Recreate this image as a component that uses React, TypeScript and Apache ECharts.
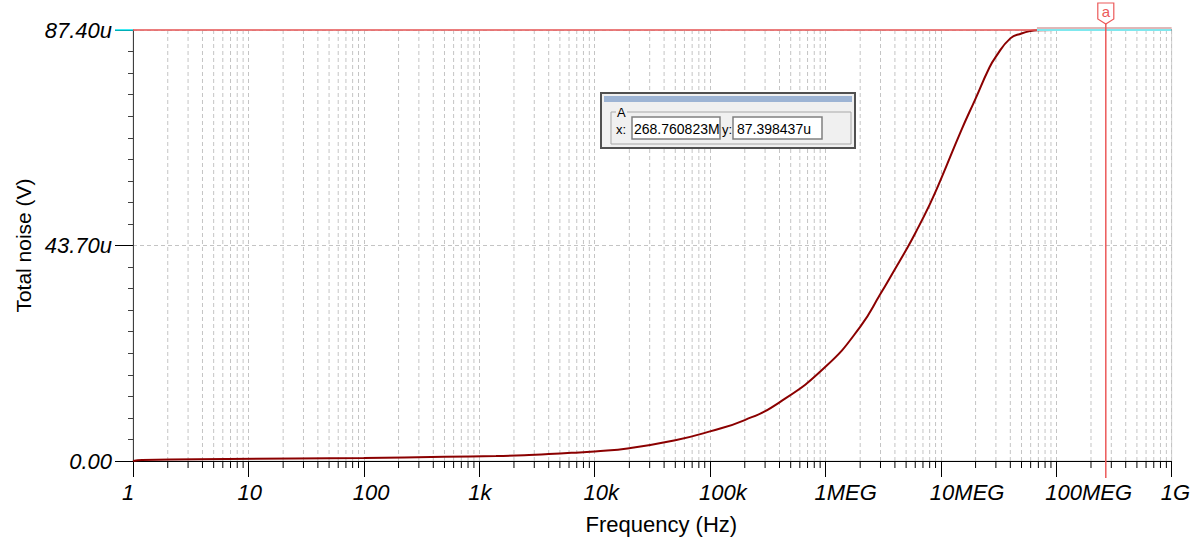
import React, { useEffect, useRef } from "react";
import * as echarts from "echarts";

// ---- data ----
const freqHz = [
  1, 1.2, 6.5, 100, 500, 1400, 2700, 4000, 6300, 10000, 20000, 50000, 100000,
  200000, 400000, 1e6, 2e6, 3e6, 4e6, 5e6, 6e6, 8e6, 1e7, 1.5e7, 2e7, 2.6e7,
  3e7, 4e7, 5e7, 6e7, 7e7, 1e8, 2.6876e8, 1e9,
];
const noiseMicroV = [
  0, 0.2, 0.4, 0.6, 0.85, 1.0, 1.2, 1.4, 1.65, 1.95, 2.6, 4.2, 6.0, 8.3, 11.9,
  19.1, 27.2, 33.9, 38.9, 42.8, 46.2, 52.0, 57.1, 67.0, 73.5, 79.5, 82.0, 85.7,
  86.7, 87.2, 87.35, 87.39, 87.398, 87.4,
];
const xTickLabels = ["1", "10", "100", "1k", "10k", "100k", "1MEG", "10MEG", "100MEG", "1G"];
const yTickLabels = ["0.00", "43.70u", "87.40u"];
const yMax = 87.4;
const yInterval = 43.7;
const decadeCount = 9;
const minorMultipliers = [2, 3, 4, 5, 6, 7, 8, 9];
const cursorFreq = 268.760823e6;
const cursorValue = 87.398437;
const cursorSplitFreq = 68e6;
const cursorName = "a";
const boxTitle = "A";
const cursorXText = "268.760823M";
const cursorYText = "87.398437u";

const FONT = "'Liberation Sans', Arial, sans-serif";
const lg = Math.log10;

const minorPositions: number[] = [];
for (let d = 0; d < decadeCount; d++) {
  for (const k of minorMultipliers) minorPositions.push(lg(k * Math.pow(10, d)));
}

export default function App() {
  const ref = useRef<HTMLDivElement>(null);
  useEffect(() => {
    if (!ref.current) return;
    const chart = echarts.init(ref.current, null, { renderer: "svg" });
    const option: any = {
      animation: false,
      backgroundColor: "#ffffff",
      grid: {
        left: 133,
        right: 20,
        top: 30,
        bottom: 76,
        show: true,
        borderColor: "#d0d0d0",
        borderWidth: 1,
        backgroundColor: "transparent",
      },
      xAxis: {
        type: "value",
        min: 0,
        max: decadeCount,
        interval: 1,
        axisLine: { show: true, onZero: false, lineStyle: { color: "#000", width: 1 } },
        axisTick: { show: true, length: 16, lineStyle: { color: "#000" } },
        splitLine: { show: true, lineStyle: { color: "#c4c4c4", type: [4, 3] } },
        axisLabel: {
          margin: 20,
          align: "right",
          formatter: (v: number) => "{a|" + xTickLabels[Math.round(v)] + "}",
          rich: {
            a: {
              width: 11,
              align: "left",
              fontFamily: FONT,
              fontSize: 22,
              fontStyle: "italic",
              color: "#000",
            },
          },
        },
        name: "Frequency (Hz)",
        nameLocation: "middle",
        nameGap: 52,
        nameTextStyle: {
          fontFamily: FONT,
          fontSize: 22,
          color: "#000",
          padding: [0, 0, 0, 18],
        },
      },
      yAxis: {
        type: "value",
        min: 0,
        max: yMax,
        interval: yInterval,
        axisLine: { show: true, lineStyle: { color: "#404040", width: 1 } },
        axisTick: { show: true, length: 18, lineStyle: { color: "#000" } },
        minorTick: { show: true, splitNumber: 10, length: 5, lineStyle: { color: "#404040" } },
        splitLine: { show: true, lineStyle: { color: "#c4c4c4", type: [4, 3] } },
        axisLabel: {
          margin: 21,
          formatter: (v: number) => yTickLabels[Math.round(v / yInterval)],
          fontFamily: FONT,
          fontSize: 22,
          fontStyle: "italic",
          color: "#000",
        },
        name: "Total noise (V)",
        nameLocation: "middle",
        nameGap: 96,
        nameTextStyle: { fontFamily: FONT, fontSize: 21, color: "#000" },
      },
      series: [
        {
          type: "custom",
          silent: true,
          clip: false,
          z: 1,
          data: minorPositions.map((p) => [p, 0]),
          renderItem: (params: any, api: any) => {
            const x = api.value(0);
            const top = api.coord([x, yMax]);
            const bot = api.coord([x, 0]);
            return {
              type: "group",
              children: [
                {
                  type: "line",
                  shape: { x1: bot[0], y1: top[1], x2: bot[0], y2: bot[1] },
                  style: { stroke: "#c4c4c4", lineDash: [4, 3], lineWidth: 1 },
                },
                {
                  type: "line",
                  shape: { x1: bot[0], y1: bot[1], x2: bot[0], y2: bot[1] + 7 },
                  style: { stroke: "#000", lineWidth: 1 },
                },
              ],
            };
          },
        },
        {
          type: "line",
          z: 3,
          showSymbol: false,
          symbol: "none",
          smooth: 0.5,
          lineStyle: { color: "#8b0000", width: 2 },
          data: freqHz.map((f, i) => [lg(f), noiseMicroV[i]]),
        },
        {
          type: "custom",
          silent: true,
          clip: false,
          z: 5,
          data: [[lg(cursorFreq), cursorValue]],
          renderItem: (params: any, api: any) => {
            const x = api.value(0);
            const y = api.value(1);
            const c = api.coord([x, y]);
            const b = api.coord([x, 0]);
            const left = api.coord([0, y]);
            const split = api.coord([lg(cursorSplitFreq), y]);
            const right = api.coord([decadeCount, y]);
            const red = "#ec5a5a";
            return {
              type: "group",
              children: [
                {
                  type: "line",
                  shape: { x1: left[0], y1: c[1], x2: split[0], y2: c[1] },
                  style: { stroke: red, lineWidth: 1.5 },
                },
                {
                  type: "line",
                  shape: { x1: split[0], y1: c[1], x2: right[0], y2: c[1] },
                  style: { stroke: "#7fe8ee", lineWidth: 2 },
                },
                {
                  type: "line",
                  shape: { x1: split[0], y1: c[1] - 2, x2: right[0], y2: c[1] - 2 },
                  style: { stroke: "#c07070", lineWidth: 1 },
                },
                {
                  type: "line",
                  shape: { x1: left[0] - 18, y1: c[1], x2: left[0], y2: c[1] },
                  style: { stroke: "#00e5f0", lineWidth: 1.5 },
                },
                {
                  type: "line",
                  shape: { x1: c[0], y1: c[1] - 6, x2: c[0], y2: b[1] + 17 },
                  style: { stroke: red, lineWidth: 1.5 },
                },
                {
                  type: "polygon",
                  shape: {
                    points: [
                      [c[0] - 8, c[1] - 27],
                      [c[0] + 8, c[1] - 27],
                      [c[0] + 8, c[1] - 11],
                      [c[0], c[1] - 6],
                      [c[0] - 8, c[1] - 11],
                    ],
                  },
                  style: { fill: "#fff", stroke: red, lineWidth: 1.2 },
                },
                {
                  type: "text",
                  style: {
                    x: c[0],
                    y: c[1] - 19,
                    text: cursorName,
                    fill: red,
                    font: "15px " + FONT,
                    align: "center",
                    verticalAlign: "middle",
                  },
                },
              ],
            };
          },
        },
      ],
      graphic: [
        {
          type: "rect",
          shape: { x: 601, y: 93, width: 254, height: 55 },
          style: { fill: "#f0f0f0", stroke: "#505050", lineWidth: 2 },
          z: 10,
        },
        {
          type: "rect",
          shape: { x: 604, y: 96, width: 248, height: 6 },
          style: { fill: "#9db4d4" },
          z: 11,
        },
        {
          type: "rect",
          shape: { x: 611, y: 112, width: 240, height: 32 },
          style: { fill: "none", stroke: "#a8a8a8", lineWidth: 1 },
          z: 11,
        },
        {
          type: "rect",
          shape: { x: 616, y: 106, width: 11, height: 12 },
          style: { fill: "#f0f0f0" },
          z: 12,
        },
        {
          type: "text",
          style: { x: 617, y: 112, text: boxTitle, font: "13px " + FONT, fill: "#000", verticalAlign: "middle" },
          z: 13,
        },
        {
          type: "text",
          style: { x: 616, y: 129, text: "x:", font: "13px " + FONT, fill: "#000", verticalAlign: "middle" },
          z: 13,
        },
        {
          type: "rect",
          shape: { x: 632, y: 117, width: 88, height: 22 },
          style: { fill: "#fff", stroke: "#808080", lineWidth: 1.5 },
          z: 12,
        },
        {
          type: "text",
          style: { x: 634, y: 129, text: cursorXText, font: "14px " + FONT, fill: "#000", verticalAlign: "middle" },
          z: 13,
        },
        {
          type: "text",
          style: { x: 722, y: 129, text: "y:", font: "13px " + FONT, fill: "#000", verticalAlign: "middle" },
          z: 15,
        },
        {
          type: "rect",
          shape: { x: 733, y: 117, width: 89, height: 22 },
          style: { fill: "#fff", stroke: "#808080", lineWidth: 1.5 },
          z: 15,
        },
        {
          type: "text",
          style: { x: 737, y: 129, text: cursorYText, font: "14px " + FONT, fill: "#000", verticalAlign: "middle" },
          z: 16,
        },
      ],
    };
    chart.setOption(option);
    return () => chart.dispose();
  }, []);
  return (
    <div
      ref={ref}
      style={{ position: "absolute", left: 0, top: 0, width: 1193, height: 540, background: "#fff" }}
    />
  );
}
